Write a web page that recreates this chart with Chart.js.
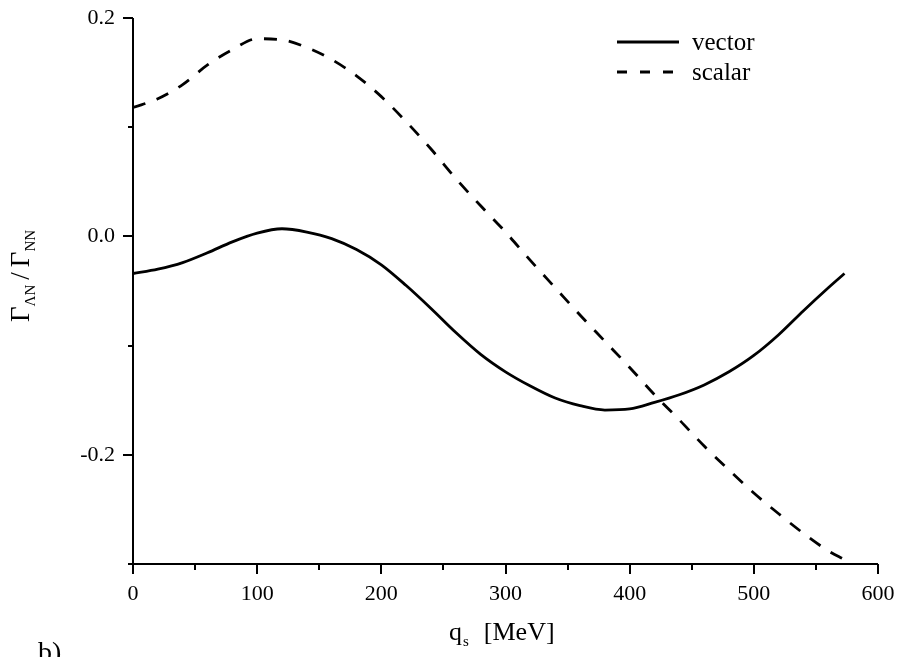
<!DOCTYPE html>
<html>
<head>
<meta charset="utf-8">
<script src="https://cdn.jsdelivr.net/npm/chart.js@4"></script>
<style>
    html, body { margin: 0; padding: 0; background: #fff; }
    canvas { display: block; }
</style>
</head>
<body>
<canvas id="ratioChart" width="898" height="657"></canvas>
<script>
// q_s values [MeV]
const qValues = [0, 20, 40, 60, 80, 100, 120, 140, 160, 180, 200, 220, 240, 260, 280,
    300, 320, 340, 360, 380, 400, 420, 440, 460, 480, 500, 520, 540, 560, 573];

// Gamma_LN / Gamma_NN, vector exchange
const vectorValues = [-0.034, -0.030, -0.024, -0.015, -0.005, 0.003, 0.007, 0.004, -0.002, -0.012,
    -0.026, -0.045, -0.066, -0.088, -0.108, -0.124, -0.137, -0.148, -0.155, -0.159,
    -0.158, -0.152, -0.145, -0.136, -0.124, -0.109, -0.090, -0.068, -0.047, -0.034];

// Gamma_LN / Gamma_NN, scalar exchange
const scalarValues = [0.118, 0.126, 0.139, 0.157, 0.171, 0.181, 0.180, 0.173, 0.162, 0.147,
    0.128, 0.105, 0.080, 0.053, 0.028, 0.004, -0.022, -0.047, -0.072, -0.096,
    -0.120, -0.145, -0.168, -0.192, -0.214, -0.235, -0.254, -0.272, -0.288, -0.296];

const legendLabels = ['vector', 'scalar'];

const SERIF = '"Liberation Serif", "DejaVu Serif", serif';

function toPoints(values) {
    return qValues.map((q, i) => ({ x: q, y: values[i] }));
}

/**
 * Axis lines, major/minor ticks, axis titles, legend and panel label
 */
const decorPlugin = {
    id: 'decor',
    afterDraw(chart) {
        const ctx = chart.ctx;
        const area = chart.chartArea;
        const xScale = chart.scales.x;
        const yScale = chart.scales.y;

        ctx.save();
        ctx.strokeStyle = '#000';
        ctx.fillStyle = '#000';
        ctx.lineWidth = 2;
        ctx.lineCap = 'butt';

        // axis lines
        ctx.beginPath();
        ctx.moveTo(area.left - 5, area.bottom);
        ctx.lineTo(area.right, area.bottom);
        ctx.moveTo(area.left, area.top);
        ctx.lineTo(area.left, area.bottom);
        ctx.stroke();

        // y ticks
        yScale.ticks.forEach(tick => {
            const y = Math.round(yScale.getPixelForValue(tick.value));
            const len = tick.label !== '' ? 10 : 5;
            ctx.beginPath();
            ctx.moveTo(area.left - len, y);
            ctx.lineTo(area.left, y);
            ctx.stroke();
        });

        // x ticks
        xScale.ticks.forEach(tick => {
            const x = Math.round(xScale.getPixelForValue(tick.value));
            const len = tick.label !== '' ? 10 : 6;
            ctx.beginPath();
            ctx.moveTo(x, area.bottom);
            ctx.lineTo(x, area.bottom + len);
            ctx.stroke();
        });

        // x title: q_s [MeV]
        ctx.textBaseline = 'alphabetic';
        ctx.textAlign = 'left';
        ctx.font = '26px ' + SERIF;
        let tx = 449;
        const ty = 640;
        ctx.fillText('q', tx, ty);
        tx += ctx.measureText('q').width + 1;
        ctx.font = '15px ' + SERIF;
        ctx.fillText('s', tx, ty + 6);
        tx += ctx.measureText('s').width + 15;
        ctx.font = '26px ' + SERIF;
        ctx.fillText('[MeV]', tx, ty);

        // y title: Gamma_LN / Gamma_NN (rotated)
        ctx.save();
        ctx.translate(29, 322);
        ctx.rotate(-Math.PI / 2);
        let px = 0;
        ctx.font = '27px ' + SERIF;
        ctx.fillText('\u0393', px, 0);
        px += ctx.measureText('\u0393').width;
        ctx.font = '15px ' + SERIF;
        ctx.fillText('\u039BN', px, 6);
        px += ctx.measureText('\u039BN').width + 5;
        ctx.font = '27px ' + SERIF;
        ctx.fillText('/', px, 0);
        px += ctx.measureText('/').width + 5;
        ctx.fillText('\u0393', px, 0);
        px += ctx.measureText('\u0393').width;
        ctx.font = '15px ' + SERIF;
        ctx.fillText('NN', px, 6);
        ctx.restore();

        // panel label
        ctx.font = '28px ' + SERIF;
        ctx.fillText('b)', 38, 661);

        // legend
        const legendX = 617;
        const legendY = [42, 72];
        const dashes = [[], [10, 13]];
        ctx.font = '25px ' + SERIF;
        ctx.textBaseline = 'middle';
        legendLabels.forEach((label, i) => {
            ctx.save();
            ctx.lineWidth = 2.8;
            ctx.setLineDash(dashes[i]);
            ctx.beginPath();
            ctx.moveTo(legendX, legendY[i]);
            ctx.lineTo(legendX + 62, legendY[i]);
            ctx.stroke();
            ctx.restore();
            ctx.fillText(label, legendX + 75, legendY[i] + 1);
        });

        ctx.restore();
    }
};

const ctx = document.getElementById('ratioChart');
new Chart(ctx, {
    type: 'line',
    data: {
        datasets: [{
            label: legendLabels[0],
            data: toPoints(vectorValues),
            borderColor: '#000',
            borderWidth: 2.8,
            pointRadius: 0,
            cubicInterpolationMode: 'monotone',
            fill: false
        }, {
            label: legendLabels[1],
            data: toPoints(scalarValues),
            borderColor: '#000',
            borderWidth: 2.8,
            borderDash: [13, 12],
            pointRadius: 0,
            cubicInterpolationMode: 'monotone',
            fill: false
        }]
    },
    options: {
        responsive: false,
        animation: false,
        devicePixelRatio: 1,
        layout: {
            padding: { left: 0, right: 20, top: 18, bottom: 0 }
        },
        plugins: {
            legend: { display: false },
            tooltip: { enabled: false }
        },
        scales: {
            x: {
                type: 'linear',
                min: 0,
                max: 600,
                grid: { display: false },
                border: { display: false },
                afterFit: scale => {
                    scale.height = 93;
                    scale.paddingLeft = 0;
                    scale.paddingRight = 0;
                },
                ticks: {
                    stepSize: 50,
                    autoSkip: false,
                    maxRotation: 0,
                    padding: 9,
                    color: '#000',
                    font: { family: SERIF, size: 22 },
                    callback: value => (value % 100 === 0 ? String(value) : '')
                }
            },
            y: {
                type: 'linear',
                min: -0.3,
                max: 0.2,
                grid: { display: false },
                border: { display: false },
                afterFit: scale => {
                    scale.width = 133;
                    scale.paddingTop = 0;
                    scale.paddingBottom = 0;
                },
                ticks: {
                    stepSize: 0.1,
                    autoSkip: false,
                    padding: 10,
                    color: '#000',
                    font: { family: SERIF, size: 22 },
                    callback: value => {
                        const tenths = Math.round(value * 10);
                        return tenths % 2 === 0 && tenths !== -4 ? (tenths / 10).toFixed(1) : '';
                    }
                }
            }
        }
    },
    plugins: [decorPlugin]
});
</script>
</body>
</html>
